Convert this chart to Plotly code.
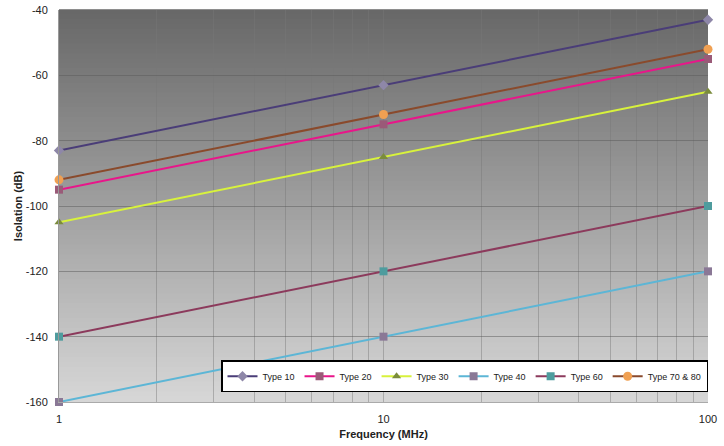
import plotly.graph_objects as go

freq = [1, 10, 100]
type10 = [-83, -63, -43]
type20 = [-95, -75, -55]
type30 = [-105, -85, -65]
type40 = [-160, -140, -120]
type60 = [-140, -120, -100]
type7080 = [-92, -72, -52]
y_ticks = [-160, -140, -120, -100, -80, -60, -40]
y_ticktext = ["-160", "-140", "-120", "-100", "-80", "-60", "-40"]

series = [
    ("Type 10", type10, "#4a3d78", "#8e87a8", "diamond", 8),
    ("Type 20", type20, "#e8168a", "#9a5a78", "square", 8),
    ("Type 30", type30, "#d8f23c", "#7b8c3c", "triangle-up", 8),
    ("Type 40", type40, "#5cb6d6", "#8a7896", "square", 8),
    ("Type 60", type60, "#8c3a5c", "#4e9c9e", "square", 8),
    ("Type 70 & 80", type7080, "#8a4a2c", "#f0a052", "circle", 9),
]

fig = go.Figure()
for name, ys, lc, mc, sym, ms in series:
    fig.add_trace(go.Scatter(
        x=freq, y=ys, name=name, mode="lines+markers",
        line=dict(color=lc, width=2),
        marker=dict(color=mc, symbol=sym, size=ms),
        cliponaxis=False,
    ))

# vertical gradient background
shapes = []
n = 80
top = (104, 104, 104)
bot = (214, 214, 214)
for i in range(n):
    t = i / (n - 1)
    c = tuple(int(round(top[k] + (bot[k] - top[k]) * t)) for k in range(3))
    shapes.append(dict(
        type="rect", xref="x domain", yref="y domain",
        x0=0, x1=1, y0=1 - (i + 1) / n, y1=1 - i / n + 0.002,
        fillcolor="rgb(%d,%d,%d)" % c, line=dict(width=0), layer="below",
    ))

fig.update_layout(
    width=724, height=446,
    margin=dict(l=59, r=16, t=10, b=44, autoexpand=False),
    paper_bgcolor="white", plot_bgcolor="rgba(0,0,0,0)",
    font=dict(family="Liberation Sans, Arial, sans-serif", size=11, color="#222"),
    shapes=shapes,
    showlegend=True,
    legend=dict(
        orientation="h", x=1.0, xanchor="right", y=0.025, yanchor="bottom",
        bgcolor="white", bordercolor="black", borderwidth=1.5,
        font=dict(size=9, color="#222"), itemwidth=30, tracegroupgap=0,
    ),
)
fig.update_xaxes(
    type="log", range=[0, 2], tickvals=[1, 10, 100], ticktext=["1", "10", "100"],
    showgrid=True, gridcolor="rgba(120,120,120,0.45)", gridwidth=1,
    minor=dict(showgrid=True, tickvals=[2, 3, 4, 5, 6, 7, 8, 9, 20, 30, 40, 50, 60, 70, 80, 90],
               gridcolor="rgba(120,120,120,0.45)", gridwidth=1),
    showline=True, linecolor="#aaa", mirror=False, zeroline=False,
    ticks="", ticklabelstandoff=7, automargin=False,
    title=dict(text="<b>Frequency (MHz)</b>", font=dict(size=11, color="#222"), standoff=6),
)
fig.update_yaxes(
    range=[-160, -40], tickvals=y_ticks, ticktext=y_ticktext,
    showgrid=True, gridcolor="rgba(90,90,90,0.5)", gridwidth=1,
    showline=True, linecolor="#999", zeroline=False, ticks="",
    ticklabelstandoff=8, automargin=False,
    title=dict(text="<b>Isolation (dB)</b>", font=dict(size=11, color="#222"), standoff=0),
)

fig.write_html("out.html", config={"displayModeBar": False},
               post_script="document.body.style.margin='0';document.body.style.overflow='hidden';")
